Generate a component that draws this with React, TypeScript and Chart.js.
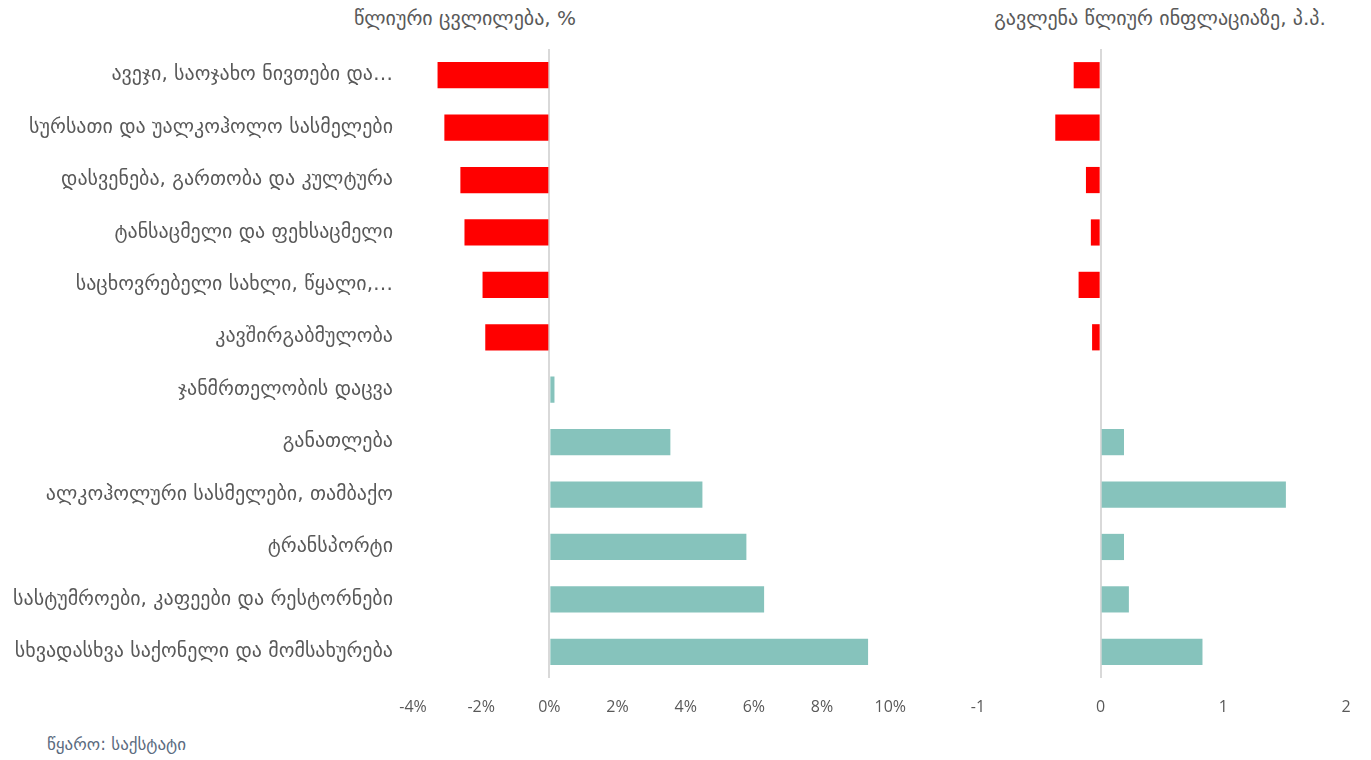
import React, { useEffect, useRef } from "react";
import { Chart, registerables } from "chart.js";
Chart.register(...registerables);

const categories = [
  "ავეჯი, საოჯახო ნივთები და…",
  "სურსათი და უალკოჰოლო სასმელები",
  "დასვენება, გართობა და კულტურა",
  "ტანსაცმელი და ფეხსაცმელი",
  "საცხოვრებელი სახლი, წყალი,…",
  "კავშირგაბმულობა",
  "ჯანმრთელობის დაცვა",
  "განათლება",
  "ალკოჰოლური სასმელები, თამბაქო",
  "ტრანსპორტი",
  "სასტუმროები, კაფეები და რესტორნები",
  "სხვადასხვა საქონელი და მომსახურება",
];
const annualChange = [-3.28, -3.08, -2.61, -2.49, -1.96, -1.88, 0.15, 3.55, 4.49, 5.78, 6.3, 9.35];
const contribution = [-0.22, -0.37, -0.12, -0.08, -0.18, -0.07, 0, 0.19, 1.51, 0.19, 0.23, 0.83];
const leftTitle = "წლიური ცვლილება, %";
const rightTitle = "გავლენა წლიურ ინფლაციაზე, პ.პ.";
const sourceText = "წყარო: საქსტატი";
const leftRange = { min: -4, max: 10, step: 2 };
const rightRange = { min: -1, max: 2, step: 1 };

const RED = "#FF0000";
const TEAL = "#86C3BC";
const GREY = "#595959";
const GEO_FONT = "'DejaVu Sans', sans-serif";
const NUM_FONT = "'Open Sans', sans-serif";

function colorsFor(vals: number[]) {
  return vals.map((v) => (v < 0 ? RED : TEAL));
}

function zeroGrid(ctx: any) {
  return ctx.tick && ctx.tick.value === 0 ? "#D9D9D9" : "rgba(0,0,0,0)";
}

export default function App() {
  const leftRef = useRef<HTMLCanvasElement | null>(null);
  const rightRef = useRef<HTMLCanvasElement | null>(null);

  useEffect(() => {
    const c1 = new Chart(leftRef.current!, {
      type: "bar",
      data: {
        labels: categories,
        datasets: [
          {
            data: annualChange,
            backgroundColor: colorsFor(annualChange),
            categoryPercentage: 1,
            barPercentage: 0.5,
          },
        ],
      },
      options: {
        indexAxis: "y",
        responsive: false,
        maintainAspectRatio: false,
        animation: false,
        layout: { padding: { left: 0, right: 0, top: 49, bottom: 0 } },
        plugins: { legend: { display: false }, tooltip: { enabled: false }, title: { display: false } },
        scales: {
          x: {
            min: leftRange.min,
            max: leftRange.max,
            border: { display: false },
            grid: { color: zeroGrid, lineWidth: 2, drawTicks: false },
            ticks: {
              stepSize: leftRange.step,
              padding: 20,
              color: GREY,
              font: { family: NUM_FONT, size: 16 },
              callback: (v: any) => v + "%",
            },
            afterFit: (s: any) => {
              s.height = 42;
            },
          },
          y: {
            border: { display: false },
            grid: { display: false, drawTicks: false },
            ticks: {
              padding: 20,
              color: GREY,
              font: { family: GEO_FONT, size: 20 },
              autoSkip: false,
            },
            afterFit: (s: any) => {
              s.width = 413;
            },
          },
        },
      } as any,
    });

    const c2 = new Chart(rightRef.current!, {
      type: "bar",
      data: {
        labels: categories,
        datasets: [
          {
            data: contribution,
            backgroundColor: colorsFor(contribution),
            categoryPercentage: 1,
            barPercentage: 0.5,
          },
        ],
      },
      options: {
        indexAxis: "y",
        responsive: false,
        maintainAspectRatio: false,
        animation: false,
        layout: { padding: { left: 28, right: 25, top: 49, bottom: 0 } },
        plugins: { legend: { display: false }, tooltip: { enabled: false }, title: { display: false } },
        scales: {
          x: {
            min: rightRange.min,
            max: rightRange.max,
            border: { display: false },
            grid: { color: zeroGrid, lineWidth: 2, drawTicks: false },
            ticks: {
              stepSize: rightRange.step,
              padding: 20,
              color: GREY,
              font: { family: NUM_FONT, size: 16 },
            },
            afterFit: (s: any) => {
              s.height = 42;
            },
          },
          y: { display: false },
        },
      } as any,
    });

    return () => {
      c1.destroy();
      c2.destroy();
    };
  }, []);

  const titleStyle: React.CSSProperties = {
    position: "absolute",
    top: 6,
    transform: "translateX(-50%)",
    whiteSpace: "nowrap",
    fontFamily: GEO_FONT,
    fontSize: 20,
    color: GREY,
  };

  return (
    <div
      style={{
        position: "fixed",
        left: 0,
        top: 0,
        width: 1371,
        height: 760,
        background: "#fff",
        overflow: "hidden",
      }}
    >
      <div style={{ ...titleStyle, left: 465 }}>{leftTitle}</div>
      <div style={{ ...titleStyle, left: 1160 }}>{rightTitle}</div>
      <canvas ref={leftRef} width={926} height={720} style={{ position: "absolute", left: 0, top: 0 }} />
      <canvas ref={rightRef} width={421} height={720} style={{ position: "absolute", left: 950, top: 0 }} />
      <div
        style={{
          position: "absolute",
          left: 47,
          top: 734,
          fontFamily: GEO_FONT,
          fontSize: 17,
          color: "#5B6B80",
          whiteSpace: "nowrap",
        }}
      >
        {sourceText}
      </div>
    </div>
  );
}
